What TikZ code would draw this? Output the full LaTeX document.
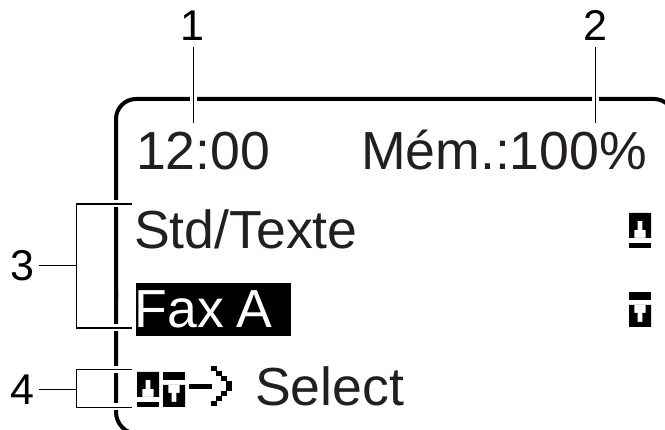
\documentclass[tikz,border=0pt]{standalone}
\usepackage{fontspec}
\setmainfont{Liberation Sans}
\definecolor{ink}{HTML}{231F20}
\tikzset{
  x=1pt,y=-1pt,
  lcd/.style={inner sep=0pt,outer sep=0pt,text=ink,font=\fontsize{53.6}{54}\selectfont},
  callout/.style={inner sep=0pt,outer sep=0pt,text=black,font=\fontsize{43}{43}\selectfont},
  halo/.style={draw=white,line width=7pt},
  leader/.style={draw=black,line width=1.4pt},
  pix/.style={fill=black,draw=none},
  frame/.style={draw=black,line width=4pt}
}
\newcommand{\iconUp}[2]{%
  \fill[pix,even odd rule,shift={(#1,#2)}] (0,0) rectangle (22,25)
    (5.3,25) -- (5.3,17) -- (8.7,17) -- (8.7,8) -- (13.3,8) -- (13.3,17) -- (16.7,17) -- (16.7,25) -- cycle;
  \fill[pix,shift={(#1,#2)}] (0,30) rectangle (22,35);
}
\newcommand{\iconDown}[2]{%
  \fill[pix,shift={(#1,#2)}] (0,0) rectangle (22,8);
  \fill[pix,even odd rule,shift={(#1,#2)}] (0,13) rectangle (22,35)
    (5.3,13) -- (5.3,21) -- (8.7,21) -- (8.7,30) -- (13.3,30) -- (13.3,21) -- (16.7,21) -- (16.7,13) -- cycle;
}
\begin{document}
\begin{tikzpicture}
\useasboundingbox (0,0) rectangle (665,430);
\begin{scope}
\clip (0,0) rectangle (665,430);
\draw[frame,rounded corners=20pt] (674,440) -- (674,99) -- (116,99) -- (116,300);
\draw[frame,rounded corners=22pt] (116,290) -- (116,434) -- (170,434);
\end{scope}
% text
\node[lcd,anchor=base west] (clock) at (136,170) {12:00};
\node[lcd,anchor=base east] (mem) at (647,170) {Mém.:100\%};
\node[lcd,anchor=base west] (std) at (134,249) {Std/Texte};
\fill[black] (136,283) rectangle (291,336);
\node[lcd,anchor=base west,text=white] (fax) at (134.5,328) {Fax\kern-2pt{} A};
\node[lcd,anchor=base west] (sel) at (255,406) {Select};
% callout numbers
\node[callout,anchor=base] (n1) at (192,41) {1};
\node[callout,anchor=base] (n2) at (595,41) {2};
\node[callout,anchor=base] (n3) at (22.5,281) {3};
\node[callout,anchor=base] (n4) at (22,405) {4};
% leader anchors
\coordinate (a1) at (193.7,123);
\coordinate (a2) at (595.3,123);
\coordinate (t1) at (193.7,46.7);
\coordinate (t2) at (595.3,46.7);
\coordinate (j3) at (76.5,265.7);
\coordinate (j4) at (76.5,389.5);
\coordinate (s3) at (39,265.7);
\coordinate (s4) at (39,389.5);
% leaders with halo across the frame
\draw[halo] (193.7,85) -- (193.7,110);
\draw[halo] (595.3,85) -- (595.3,110);
\draw[halo] (100,204) -- (130,204);
\draw[halo] (100,328) -- (130,328);
\draw[halo] (100,369.5) -- (130,369.5);
\draw[halo] (100,407) -- (130,407);
\draw[leader] (t1) -- (a1);
\draw[leader] (t2) -- (a2);
\draw[leader] (s3) -- (j3);
\draw[leader] (s4) -- (j4);
\draw[leader] (132,204) -- (76.5,204) -- (76.5,328) -- (132,328);
\draw[leader] (132,369.5) -- (76.5,369.5) -- (76.5,407.3) -- (132,407.3);
% icons
\iconUp{629}{213}
\iconDown{629}{292}
\iconUp{137}{372}
\iconDown{163}{372}
% pixel arrow
\fill[pix] (189,384.5) rectangle (212,389.5);
\foreach \i/\yy in {0/366,1/371,2/376,3/381,4/386,5/391,6/396,7/401}{
  \pgfmathsetmacro{\xx}{\i<4 ? 211+\i*5 : 211+(7-\i)*5}
  \fill[pix] (\xx,\yy) rectangle ++(5.5,5.5);
}
\end{tikzpicture}
\end{document}
